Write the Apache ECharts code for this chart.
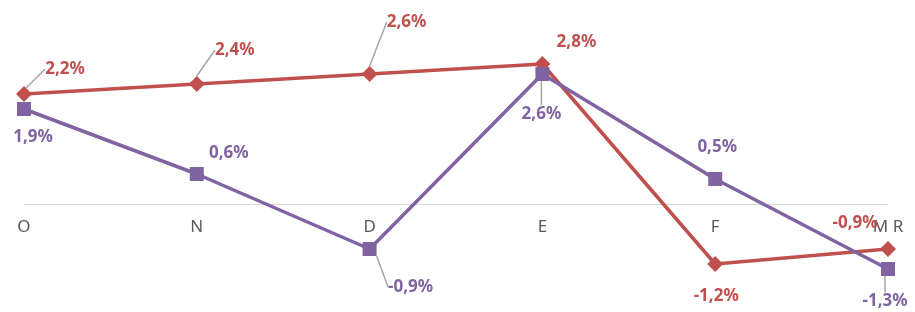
<!DOCTYPE html>
<html>
<head>
<meta charset="utf-8">
<script src="https://cdn.jsdelivr.net/npm/echarts@6/dist/echarts.min.js"></script>
<style>
    html, body { margin: 0; padding: 0; background: #fff; }
    #chart { width: 915px; height: 312px; }
</style>
</head>
<body>
<div id="chart"></div>
<script>
    var categories = ['O', 'N', 'D', 'E', 'F', 'M R'];
    var redValues = [2.2, 2.4, 2.6, 2.8, -1.2, -0.9];
    var purpleValues = [1.9, 0.6, -0.9, 2.6, 0.5, -1.3];
    // label offsets from the point (dx, dy); leader line shown or not
    var redLabelOffsets = [[41, -25], [38, -34], [37, -52], [34, -22], [1, 32], [-33, -26]];
    var purpleLabelOffsets = [[9, 28], [32, -21], [41, 38], [-1, 40], [2, -32], [-3, 32]];
    var redLeaders = [true, true, true, false, false, false];
    var purpleLeaders = [false, false, true, true, false, true];

    var RED = '#C0504D';
    var PURPLE = '#8064A2';

    function fmt(v) {
        return v.toFixed(1).replace('.', ',') + '%';
    }

    function buildData(values, leaders) {
        return values.map(function(v, i) {
            return {
                value: v,
                labelLine: { show: leaders[i] }
            };
        });
    }

    function layoutFor(offsets) {
        return function(p) {
            var o = offsets[p.dataIndex];
            return { dx: o[0], dy: o[1] };
        };
    }

    var labelBase = {
        show: true,
        position: 'inside',
        fontSize: 17,
        fontWeight: 'bold',
        fontFamily: 'Noto Sans',
        formatter: function(p) { return fmt(p.value); }
    };

    var myChart = echarts.init(document.getElementById('chart'));
    var option = {
        animation: false,
        grid: [
            // main plot
            { left: 24, right: 27, top: 29, bottom: 8, outerBoundsMode: 'none' },
            // helper grid whose bottom edge sits on the zero line, only for category labels
            { left: 24, right: 27, top: 29, height: 175, outerBoundsMode: 'none' }
        ],
        xAxis: [{
            type: 'category',
            gridIndex: 0,
            data: categories,
            boundaryGap: false,
            axisLine: { onZero: true, lineStyle: { color: '#d9d9d9', width: 1 } },
            axisTick: { show: false },
            axisLabel: { show: false }
        }, {
            type: 'category',
            gridIndex: 1,
            data: categories,
            boundaryGap: false,
            axisLine: { show: false },
            axisTick: { show: false },
            axisLabel: {
                color: '#595959',
                fontSize: 17,
                fontFamily: 'Noto Sans',
                margin: 15
            }
        }],
        yAxis: [{
            type: 'value',
            gridIndex: 0,
            min: -2,
            max: 3.5,
            show: false,
            splitLine: { show: false }
        }, {
            type: 'value',
            gridIndex: 1,
            show: false,
            splitLine: { show: false }
        }],
        series: [{
            name: 'rojo',
            type: 'line',
            data: buildData(redValues, redLeaders),
            symbol: 'diamond',
            symbolSize: 16,
            lineStyle: { color: RED, width: 3.5 },
            itemStyle: { color: RED },
            label: Object.assign({ color: RED }, labelBase),
            labelLine: { lineStyle: { color: '#a6a6a6', width: 1.5 } },
            labelLayout: layoutFor(redLabelOffsets)
        }, {
            name: 'morado',
            type: 'line',
            data: buildData(purpleValues, purpleLeaders),
            symbol: 'rect',
            symbolSize: 14,
            lineStyle: { color: PURPLE, width: 3.5 },
            itemStyle: { color: PURPLE },
            label: Object.assign({ color: PURPLE }, labelBase),
            labelLine: { lineStyle: { color: '#a6a6a6', width: 1.5 } },
            labelLayout: layoutFor(purpleLabelOffsets)
        }]
    };
    myChart.setOption(option);
</script>
</body>
</html>
